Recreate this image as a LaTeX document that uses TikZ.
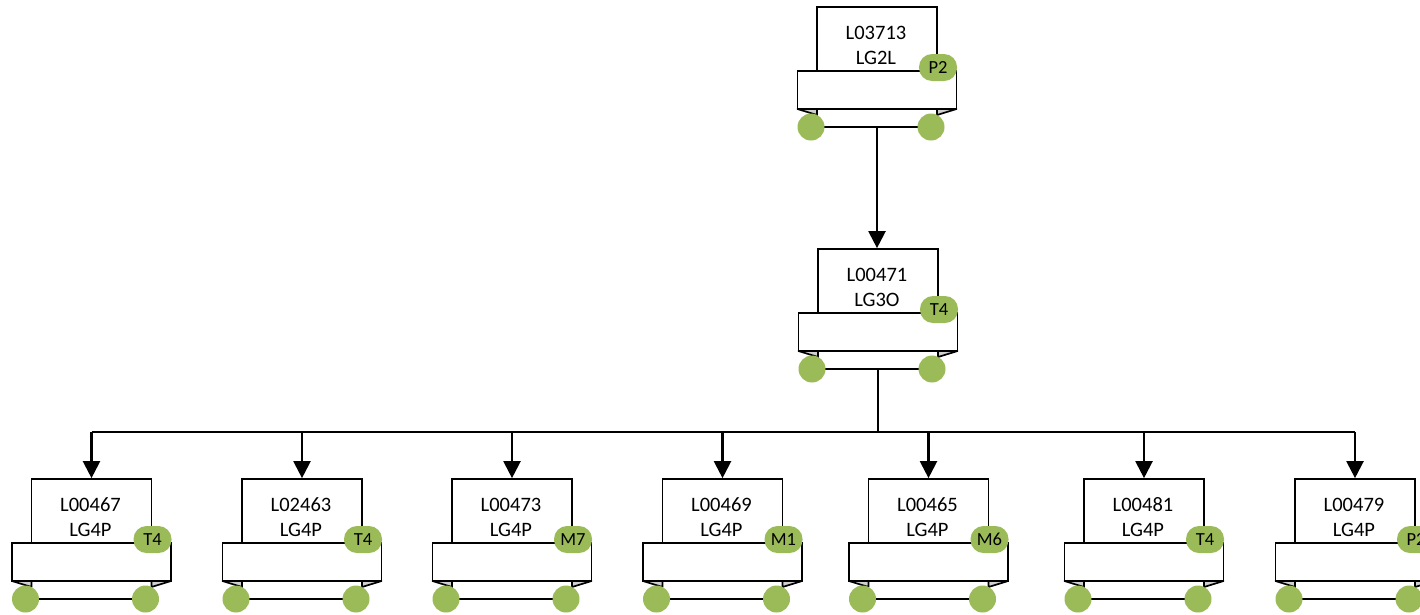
\documentclass[tikz,border=0pt]{standalone}
\usepackage{fontspec}
\setmainfont{Carlito}
\usetikzlibrary{arrows.meta,shapes.geometric}
\definecolor{olive}{HTML}{9BBB59}
\definecolor{tabgray}{HTML}{D0D0D0}
\tikzset{
 boxpart/.style={draw=black, line width=1.7pt, fill=white, inner sep=0pt},
 dot/.style={circle, fill=olive, draw=none, minimum size=27pt, inner sep=0pt},
 badge/.style={rectangle, rounded corners=13pt, fill=olive, draw=none, minimum width=38pt, minimum height=27pt, inner sep=0pt, font=\fontsize{18.5}{21}\selectfont},
 lbl/.style={font=\fontsize{20.5}{25}\selectfont, inner sep=0pt},
 tab/.style={fill=tabgray, draw=black, line width=1.7pt, line join=round},
 link/.style={line width=2.2pt},
 arr/.style={line width=2.2pt, -{Triangle[width=17pt,length=17pt]}},
}
\newcommand\ribbon[6]{%
 \begin{scope}[shift={(#2,#3)}]
  \node[boxpart, minimum width=120pt, minimum height=64pt] (#1) at (0,32) {};
  \node[boxpart, minimum width=120pt, minimum height=18pt] (#1-b) at (0,111) {};
  \node[boxpart, minimum width=159pt, minimum height=38pt] (#1-band) at (0,83) {};
  \filldraw[tab] (-79.5,102) -- (-60,102) -- (-60,108) -- cycle;
  \filldraw[tab] (79.5,102) -- (60,102) -- (60,108) -- cycle;
  \node[lbl] (#1-t1) at (-1,26) {#4};
  \node[lbl] (#1-t2) at (-1,51) {#5};
  \node[dot] (#1-c1) at (-66,120) {};
  \node[dot] (#1-c2) at (54,120) {};
  \node[badge] (#1-bd) at (61,60.5) {#6};
 \end{scope}}
\begin{document}
\begin{tikzpicture}[x=1pt,y=-1pt]
\useasboundingbox (0,0) rectangle (1420,614);
\clip (0,0) rectangle (1420,614);
\ribbon{top}{877}{7}{L03713}{LG2L}{P2}
\ribbon{mid}{878}{249}{L00471}{LG3O}{T4}
\ribbon{k1}{91.5}{479}{L00467}{LG4P}{T4}
\ribbon{k2}{302}{479}{L02463}{LG4P}{T4}
\ribbon{k3}{512}{479}{L00473}{LG4P}{M7}
\ribbon{k4}{722.5}{479}{L00469}{LG4P}{M1}
\ribbon{k5}{928.5}{479}{L00465}{LG4P}{M6}
\ribbon{k6}{1144}{479}{L00481}{LG4P}{T4}
\ribbon{k7}{1355}{479}{L00479}{LG4P}{P2}
\draw[arr] (top-b.south) -- (top-b.south |- mid.north);
\draw[link] (mid-b.south) -- ++(0,62) coordinate (bus);
\draw[link] (bus -| k1.north) -- (bus -| k7.north);
\foreach \k in {k1,k2,k3,k4,k5,k6,k7}
  \draw[arr] (bus -| \k.north) -- (\k.north);
\end{tikzpicture}
\end{document}
